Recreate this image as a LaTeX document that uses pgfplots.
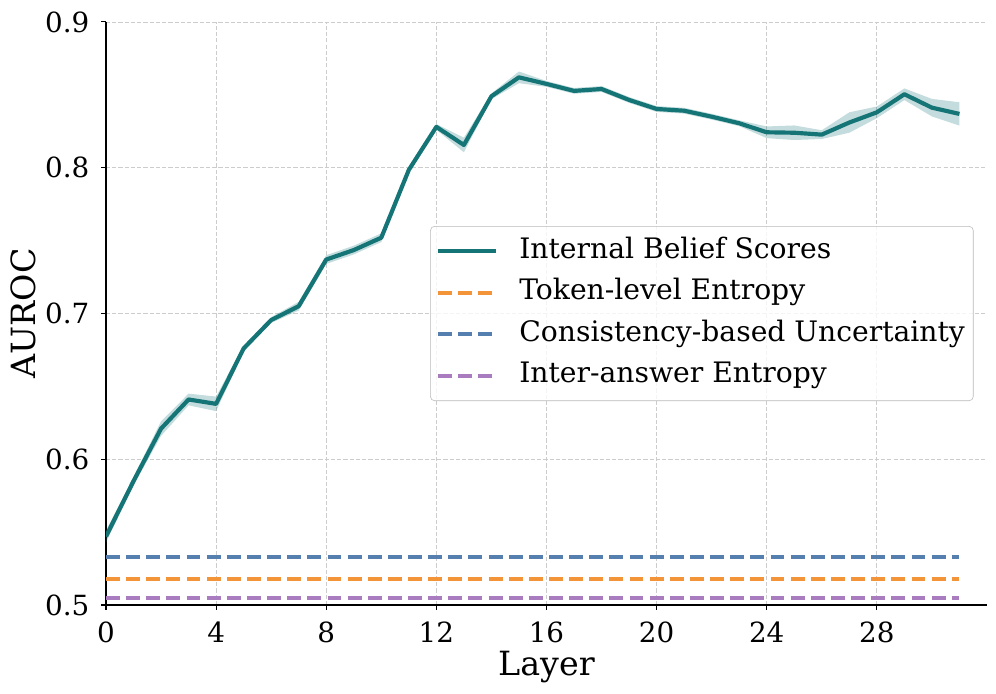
\documentclass[border=0pt]{standalone}
\usepackage{fontspec}
\setmainfont{DejaVu Serif}
\usepackage{pgfplots}
\pgfplotsset{compat=1.18}
\usepackage{pgfplotstable}
\usepgfplotslibrary{fillbetween}

\definecolor{ibs}{RGB}{20,116,118}
\definecolor{ibsband}{RGB}{20,116,118}
\definecolor{tokorange}{RGB}{244,148,56}
\definecolor{consblue}{RGB}{84,127,174}
\definecolor{interpurple}{RGB}{168,124,190}

% layer, mean, lower, upper
\pgfplotstableread{
x m lo hi
0 0.547 0.543 0.551
1 0.585 0.582 0.588
2 0.621 0.616 0.626
3 0.641 0.637 0.645
4 0.638 0.633 0.643
5 0.676 0.674 0.678
6 0.6955 0.6935 0.6975
7 0.705 0.702 0.708
8 0.737 0.734 0.740
9 0.7435 0.7405 0.7465
10 0.752 0.749 0.755
11 0.7985 0.7965 0.8005
12 0.828 0.826 0.830
13 0.8156 0.8106 0.8206
14 0.849 0.847 0.851
15 0.862 0.858 0.866
16 0.8575 0.8555 0.8595
17 0.8527 0.8507 0.8547
18 0.854 0.852 0.856
19 0.8465 0.8445 0.8485
20 0.8403 0.8383 0.8423
21 0.8391 0.8371 0.8411
22 0.835 0.833 0.837
23 0.8305 0.8285 0.8325
24 0.8243 0.8203 0.8283
25 0.824 0.819 0.829
26 0.8227 0.8197 0.8257
27 0.831 0.824 0.838
28 0.838 0.834 0.842
29 0.8504 0.8464 0.8544
30 0.8412 0.8352 0.8472
31 0.8369 0.8289 0.8449
}\ibsdata

\begin{document}
\begin{tikzpicture}
\begin{axis}[
    scale only axis,
    width=634.3pt, height=419.8pt,
    xmin=0, xmax=32,
    ymin=0.5, ymax=0.9,
    xtick={0,4,8,12,16,20,24,28},
    ytick={0.5,0.6,0.7,0.8,0.9},
    axis lines=left,
    axis line style={-, line width=0.8pt, black},
    tick align=outside,
    major tick length=3.5pt,
    tick style={black, line width=0.8pt},
    grid=major,
    major grid style={color=gray!40, line width=0.6pt, dash pattern=on 3pt off 1.5pt},
    /pgf/number format/assume math mode=true,
    ticklabel style={font=\fontsize{20}{24}\selectfont},
    yticklabel style={/pgf/number format/fixed, /pgf/number format/precision=1,
        /pgf/number format/fixed zerofill, anchor=base east, yshift=-7.3pt, xshift=-5pt},
    xticklabel style={anchor=base, yshift=-23.8pt},
    xlabel={Layer},
    ylabel={AUROC},
    xlabel style={font=\fontsize{24}{28}\selectfont, at={(axis description cs:0.5,-0.1201)}, anchor=base},
    ylabel style={font=\fontsize{24}{28}\selectfont, at={(axis description cs:-0.0942,0.5)}, anchor=center, rotate=0},
    legend style={at={(axis description cs:0.368,0.650)}, anchor=north west,
        font=\fontsize{20.3}{24}\selectfont,
        draw=gray!55, rounded corners=3pt, fill=white, fill opacity=0.8, text opacity=1,
        inner xsep=4pt, inner ysep=6.5pt, row sep=7pt, column sep=13pt,
        nodes={inner sep=2pt, text height=14.6pt, text depth=4.3pt}},
    legend cell align=left,
    legend image code/.code={\draw[#1] (0pt,0pt) -- (42pt,0pt);},
]
\addplot[name path=upper, draw=none, forget plot] table[x=x, y=hi] {\ibsdata};
\addplot[name path=lower, draw=none, forget plot] table[x=x, y=lo] {\ibsdata};
\addplot[fill=ibsband, fill opacity=0.25, draw=none, forget plot] fill between[of=upper and lower];

\addplot[ibs, line width=3pt, line join=round] table[x=x, y=m] {\ibsdata};
\addlegendentry{Internal Belief Scores}

\addplot[tokorange, line width=2.6pt, dash pattern=on 10pt off 4.5pt] coordinates {(0,0.518) (31,0.518)};
\addlegendentry{Token-level Entropy}
\addplot[consblue, line width=2.6pt, dash pattern=on 10pt off 4.5pt] coordinates {(0,0.533) (31,0.533)};
\addlegendentry{Consistency-based Uncertainty}
\addplot[interpurple, line width=2.6pt, dash pattern=on 10pt off 4.5pt] coordinates {(0,0.505) (31,0.505)};
\addlegendentry{Inter-answer Entropy}
\end{axis}
\pgfresetboundingbox
\path ([shift={(-76.3pt,-63.4pt)}]current axis.south west) rectangle ([shift={(6.5pt,15.8pt)}]current axis.north east);
\end{tikzpicture}
\end{document}
